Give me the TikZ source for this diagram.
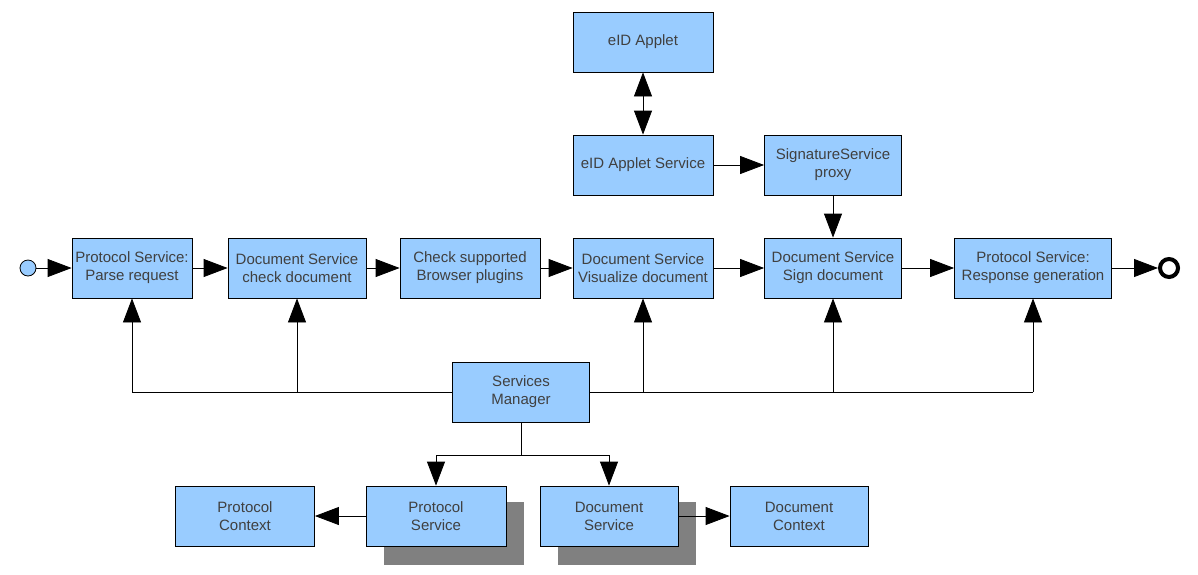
\documentclass[tikz,border=0pt]{standalone}
\usepackage{fontspec}
\setmainfont{Liberation Sans}
\usetikzlibrary{positioning, arrows.meta}

\definecolor{boxblue}{RGB}{153,204,255}

\tikzset{
    box/.style={draw=black, thick, fill=boxblue, minimum width=#1, minimum height=60pt, inner sep=0pt, align=center, font=\fontsize{15}{18}\selectfont, text=black!75},
    box/.default=140pt,
    flow/.style={thick, -{Triangle[length=24pt, width=18pt]}},
    both/.style={thick, {Triangle[length=24pt, width=18pt]}-{Triangle[length=24pt, width=18pt]}}
}

\begin{document}
\begin{tikzpicture}[x=1pt, y=-1pt]
        \useasboundingbox (0,0) rectangle (1198,574);

        % shadows first
        \fill[black!50] (384,502) rectangle (524,565);
        \fill[black!50] (558,502) rectangle (696,565);

        \node[box] (applet) at (643,42) {eID Applet};
        \node[box] (appsrv) at (643,165) {eID Applet Service};
        \node[box=137pt] (proxy) at (833,165) {SignatureService\\proxy};

        \node[box=120pt] (parse) at (132,268) {Protocol Service:\\Parse request};
        \node[box=138pt] (check) at (297,268) {Document Service\\check document};
        \node[box] (plugins) at (470,268) {Check supported\\Browser plugins};
        \node[box] (visual) at (643,268) {Document Service\\Visualize document};
        \node[box=137pt] (sign) at (833,268) {Document Service\\Sign document};
        \node[box=157pt] (response) at (1033,268) {Protocol Service:\\Response generation};

        \node[box=137pt] (manager) at (521,392) {Services\\Manager};

        \node[box=139pt] (pctx) at (245,516) {Protocol\\Context};
        \node[box] (psrv) at (436,516) {Protocol\\Service};
        \node[box=138pt] (dsrv) at (609,516) {Document\\Service};
        \node[box=138pt] (dctx) at (799,516) {Document\\Context};

        \node[circle, draw=black, thick, fill=boxblue, minimum size=16pt, inner sep=0pt] (start) at (28,268) {};
        \node[circle, draw=black, line width=4pt, fill=white, minimum size=18pt, inner sep=0pt] (stop) at (1169,268) {};

        \coordinate (fork) at (521,455);

        % main flow
        \draw[flow] (start) -- (parse);
        \draw[flow] (parse) -- (check);
        \draw[flow] (check) -- (plugins);
        \draw[flow] (plugins) -- (visual);
        \draw[flow] (visual) -- (sign);
        \draw[flow] (sign) -- (response);
        \draw[flow] (response) -- (stop);

        \draw[both] (applet) -- (appsrv);
        \draw[flow] (appsrv) -- (proxy);
        \draw[flow] (proxy) -- (sign);

        % manager bus
        \draw[thick] (manager.west) -- (parse.south |- manager.west);
        \draw[flow] (parse.south |- manager.west) -- (parse.south);
        \draw[flow] (check.south |- manager.west) -- (check.south);
        \draw[thick] (manager.east) -- (response.south |- manager.east);
        \draw[flow] (visual.south |- manager.east) -- (visual.south);
        \draw[flow] (sign.south |- manager.east) -- (sign.south);
        \draw[flow] (response.south |- manager.east) -- (response.south);

        \draw[thick] (manager.south) -- (fork);
        \draw[flow] (fork) -| (psrv.north);
        \draw[flow] (fork) -| (dsrv.north);

        \draw[flow] (psrv) -- (pctx);
        \draw[flow] (dsrv) -- (dctx);
    \end{tikzpicture}
\end{document}
